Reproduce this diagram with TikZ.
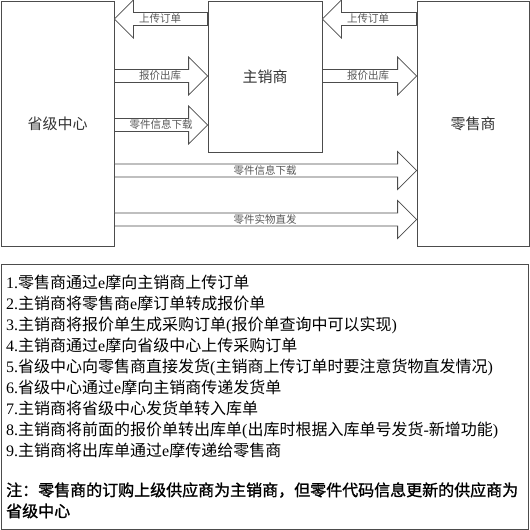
\documentclass[tikz,border=0pt]{standalone}
\usepackage{fontspec}
\setmainfont{Liberation Serif}
\newfontfamily\cjk{Noto Sans CJK SC}
\newfontfamily\cjkb[FakeBold=1.2]{Noto Sans CJK SC}
\usetikzlibrary{calc}
\newcommand\lt[1]{{\rmfamily #1}}
% #1 label name, #2 from anchor, #3 tip anchor, #4 y, #5 label x, #6 label
\newcommand\blockarrow[6]{%
  \draw[blk] let \p1=(#2), \p2=(#3), \n1={ifthenelse(\x2>\x1,1,-1)} in
    (\x1,{#4pt+6.5pt}) -- ({\x2-\n1*19pt},{#4pt+6.5pt}) -- ({\x2-\n1*19pt},{#4pt+19pt})
    -- (\x2,{#4pt}) -- ({\x2-\n1*19pt},{#4pt-19pt}) -- ({\x2-\n1*19pt},{#4pt-6.5pt})
    -- (\x1,{#4pt-6.5pt}) -- cycle;
  \node[lbl] (#1) at (#5,#4) {#6};}
\tikzset{
  box/.style={draw=black!70, line width=0.8pt, inner sep=0pt, font=\cjk\fontsize{15}{18}\selectfont, text=black!80},
  blk/.style={draw=black!70, line width=0.8pt, fill=white},
  lbl/.style={inner sep=0pt, font=\cjk\fontsize{10.5}{12}\selectfont, text=black!65},
  txt/.style={anchor=base west, inner sep=0pt, font=\cjk\fontsize{16}{19}\selectfont, text=black},
  notetxt/.style={txt, font=\cjkb\fontsize{16}{19}\selectfont}
}
\begin{document}
\begin{tikzpicture}[x=1pt,y=1pt]
\useasboundingbox (0,0) rectangle (530,530);
\fill[white] (0,0) rectangle (530,530);
\node[box, minimum width=113pt, minimum height=245pt] (prov) at (57.5,406.5) {省级中心};
\node[box, minimum width=114pt, minimum height=151pt] (main) at (265,453.5) {主销商};
\node[box, minimum width=112pt, minimum height=245pt] (ret) at (473,406.5) {零售商};

\blockarrow{l1}{main.west}{prov.east}{511}{160}{上传订单}
\blockarrow{l2}{ret.west}{main.east}{511}{368}{上传订单}
\blockarrow{l3}{prov.east}{main.west}{454}{160}{报价出库}
\blockarrow{l4}{main.east}{ret.west}{454}{368}{报价出库}
\blockarrow{l5}{prov.east}{main.west}{405}{161}{零件信息下载}
\blockarrow{l6}{prov.east}{ret.west}{359.5}{265}{零件信息下载}
\blockarrow{l7}{prov.east}{ret.west}{310.5}{265}{零件实物直发}

\node[draw=black!70, line width=0.8pt, minimum width=527.5pt, minimum height=265pt, inner sep=0pt] (notes) at (264.75,133.5) {};

\node[txt] (t1) at (6,241) {\lt{1.}零售商通过\lt{e}摩向主销商上传订单};
\node[txt] (t2) at (6,220) {\lt{2.}主销商将零售商\lt{e}摩订单转成报价单};
\node[txt] (t3) at (6,199) {\lt{3.}主销商将报价单生成采购订单\lt{(}报价单查询中可以实现\lt{)}};
\node[txt] (t4) at (6,178) {\lt{4.}主销商通过\lt{e}摩向省级中心上传采购订单};
\node[txt] (t5) at (6,157) {\lt{5.}省级中心向零售商直接发货\lt{(}主销商上传订单时要注意货物直发情况\lt{)}};
\node[txt] (t6) at (6,136) {\lt{6.}省级中心通过\lt{e}摩向主销商传递发货单};
\node[txt] (t7) at (6,115) {\lt{7.}主销商将省级中心发货单转入库单};
\node[txt] (t8) at (6,94) {\lt{8.}主销商将前面的报价单转出库单\lt{(}出库时根据入库单号发货\lt{-}新增功能\lt{)}};
\node[txt] (t9) at (6,73) {\lt{9.}主销商将出库单通过\lt{e}摩传递给零售商};
\node[notetxt] (n1) at (6,34) {注：零售商的订购上级供应商为主销商，但零件代码信息更新的供应商为};
\node[notetxt] (n2) at (6,13) {省级中心};
\end{tikzpicture}
\end{document}
